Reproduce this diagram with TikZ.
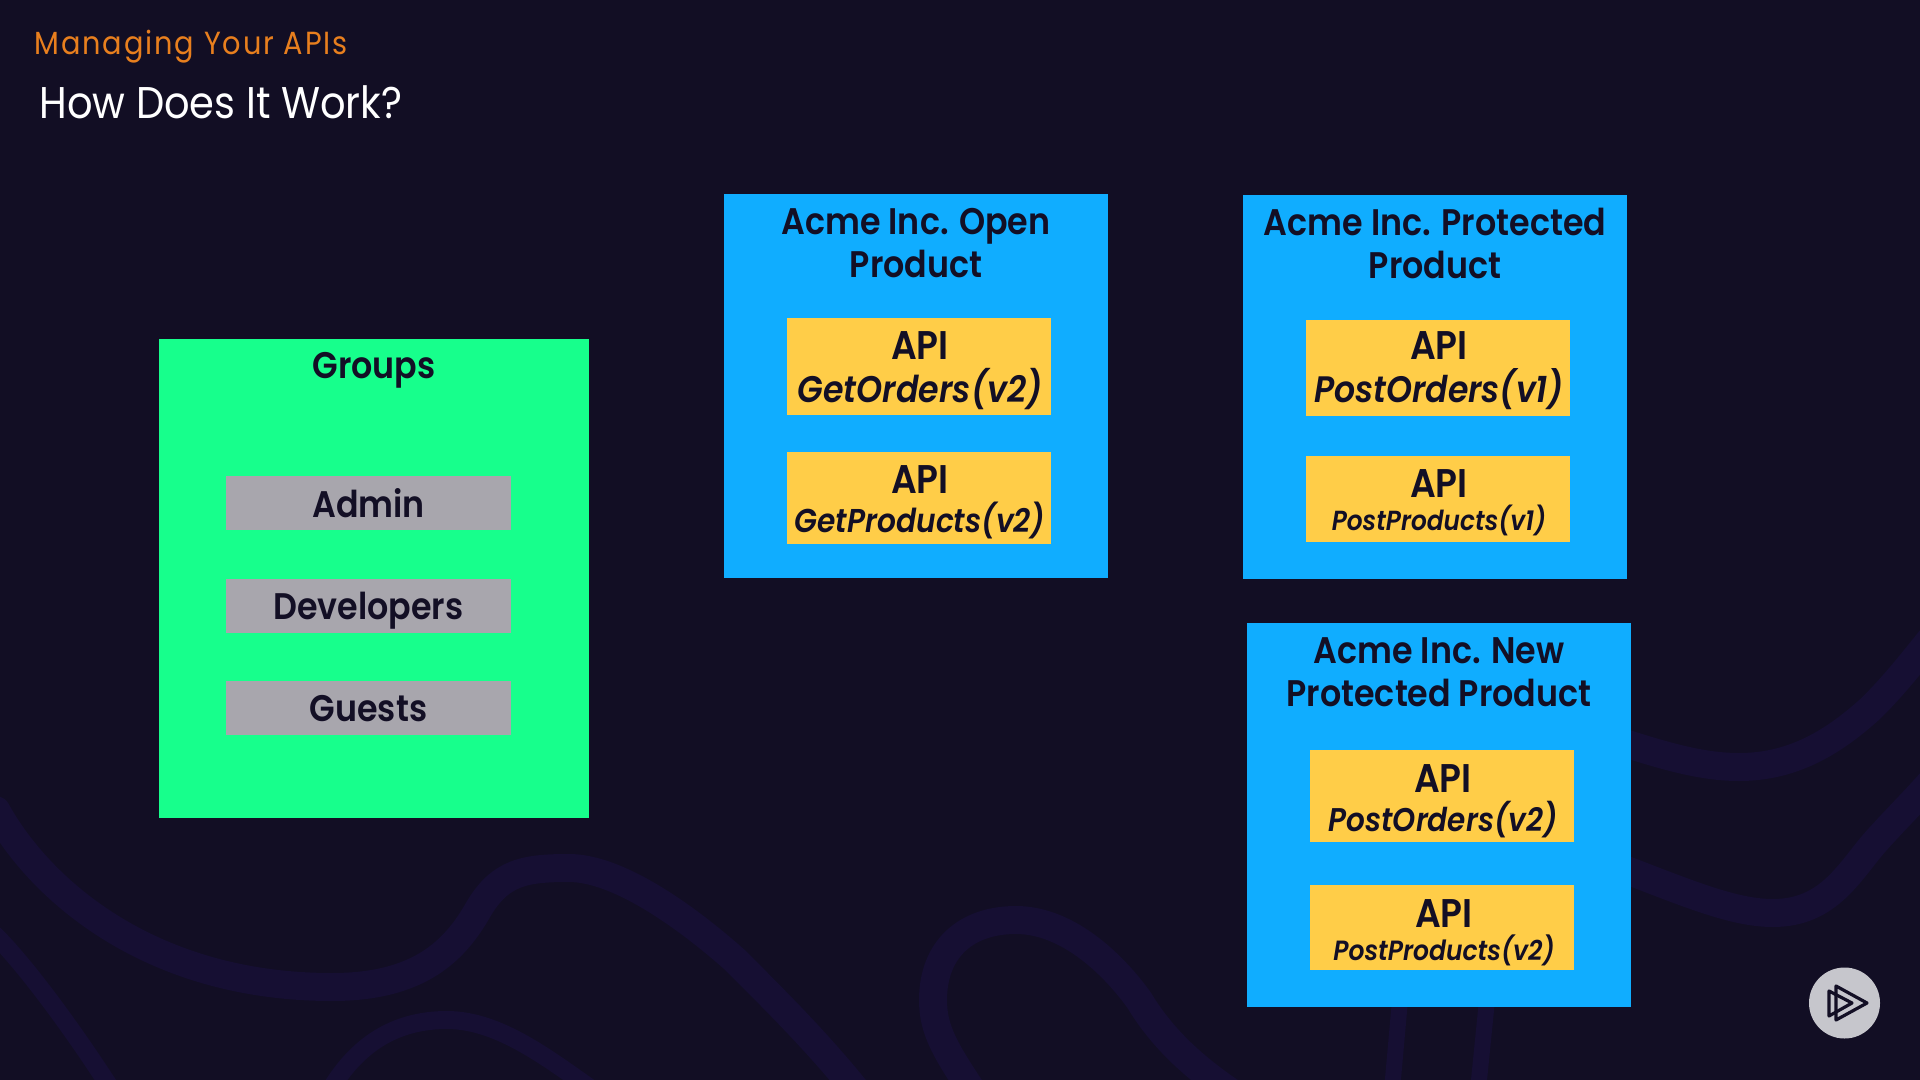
\documentclass[tikz,border=0pt]{standalone}
\usepackage{fontspec}
\setmainfont{Poppins}[UprightFont=* Medium,ItalicFont=* Medium Italic,BoldFont=* SemiBold,BoldItalicFont=* SemiBold Italic,FakeStretch=0.9]
\newfontfamily\lightf{Poppins}[UprightFont=* Regular,FakeStretch=0.9]
\definecolor{bgc}{HTML}{120E24}
\definecolor{wavec}{HTML}{160F33}
\definecolor{inkc}{HTML}{130F25}
\definecolor{greenc}{HTML}{17FF8C}
\definecolor{bluec}{HTML}{10ADFF}
\definecolor{yellowc}{HTML}{FFCD48}
\definecolor{grayc}{HTML}{A8A6AD}
\definecolor{orangec}{HTML}{E87F1E}
\definecolor{logoc}{HTML}{C6C6CC}
\tikzset{
  x=0.5pt,y=-0.5pt,
  pxbox/.style 2 args={rectangle,draw=none,inner sep=0pt,outer sep=0pt,minimum width=#1*0.5pt,minimum height=#2*0.5pt},
  groupbox/.style={pxbox={430}{479},fill=greenc},
  productbox/.style={pxbox={384}{384},fill=bluec},
  memberbox/.style={pxbox={285}{54},fill=grayc,text=inkc,text height=16pt,text depth=2pt,font=\fontsize{18.5}{22}\selectfont\bfseries},
  apibox/.style={pxbox={264}{#1},fill=yellowc},
  apitext/.style={text=inkc,align=center,inner sep=0pt,font=\fontsize{20}{21.5}\selectfont\bfseries},
  titletext/.style={text=inkc,align=center,inner sep=0pt,font=\fontsize{18.5}{21.5}\selectfont\bfseries},
  wave/.style={draw=wavec,line width=#1,line cap=round,line join=round},
  wave/.default=14pt
}
\begin{document}
\begin{tikzpicture}
\useasboundingbox (0,0) rectangle (1920,1080);
\fill[bgc] (0,0) rectangle (1920,1080);
\begin{scope}
\clip (0,0) rectangle (1920,1080);
\draw[wave] (-4,810) .. controls (40,890) and (150,987) .. (332,987) .. controls (420,987) and (455,950) .. (478,910) .. controls (500,872) and (525,868) .. (569,868) .. controls (620,868) and (690,920) .. (735,960) .. controls (780,1005) and (820,1045) .. (860,1095);
\draw[wave] (975,1095) .. controls (945,1050) and (933,1030) .. (933,1000) .. controls (933,950) and (965,920) .. (1016,920) .. controls (1065,920) and (1110,960) .. (1139,1000) .. controls (1160,1035) and (1190,1065) .. (1235,1095);
\draw[wave=9pt] (-5,935) .. controls (30,970) and (80,1040) .. (115,1095);
\draw[wave=9pt] (330,1090) .. controls (360,1040) and (400,1020) .. (447,1020) .. controls (500,1020) and (550,1060) .. (600,1095);
\draw[wave] (1600,735) .. controls (1660,755) and (1700,767) .. (1739,767) .. controls (1790,767) and (1830,745) .. (1869,710) .. controls (1890,690) and (1910,665) .. (1930,640);
\draw[wave] (1600,860) .. controls (1680,890) and (1730,913) .. (1773,913) .. controls (1830,913) and (1850,870) .. (1877,840) .. controls (1895,820) and (1915,800) .. (1930,783);
\draw[wave=8pt] (1400,1000) -- (1392,1090);
\draw[wave=8pt] (1487,1000) -- (1478,1090);
\end{scope}

\node[orangec,anchor=base west,inner sep=0pt,font=\lightf\fontsize{16}{18}\selectfont\addfontfeature{LetterSpace=6}] (section) at (34,55) {Managing Your APIs};
\node[white,anchor=base west,inner sep=0pt,font=\lightf\fontsize{22.2}{26}\selectfont] (heading) at (39,119) {How Does It Work?};

\node[groupbox] (groups) at (374,578.5) {};
\node[titletext,anchor=base] (groupsT) at (374,379) {Groups};
\node[memberbox] (admin) at (368.5,503) {Admin};
\node[memberbox] (developers) at (368.5,605.5) {Developers};
\node[memberbox] (guests) at (368.5,707.5) {Guests};

\node[productbox] (open) at (916,386) {};
\node[titletext] (openT) at (916,243) {Acme Inc. Open\\Product};
\node[apibox=97] (a1) at (918.5,366.5) {};
\node[apitext] (a1T) at (920,371) {API\\\fontsize{18.5}{21.5}\selectfont\textit{GetOrders(v2)}};
\node[apibox=92] (a2) at (918.5,498) {};
\node[apitext] (a2T) at (920,502) {API\\[-2pt]\fontsize{16.5}{20}\selectfont\textit{GetProducts(v2)}};

\node[productbox] (protected) at (1435,387) {};
\node[titletext] (protectedT) at (1435,243) {Acme Inc. Protected\\Product};
\node[apibox=96] (b1) at (1437.5,368) {};
\node[apitext] (b1T) at (1439,371) {API\\\fontsize{18.4}{21.5}\selectfont\textit{PostOrders(v1)}};
\node[apibox=86] (b2) at (1437.5,499) {};
\node[apitext] (b2T) at (1439,503) {API\\[-5pt]\fontsize{13.8}{15}\selectfont\textit{PostProducts(v1)}};

\node[productbox] (newprod) at (1439,815) {};
\node[titletext] (newprodT) at (1439,672) {Acme Inc. New\\Protected Product};
\node[apibox=92] (c1) at (1442,796) {};
\node[apitext] (c1T) at (1443,801) {API\\[-1.8pt]\fontsize{16.4}{20}\selectfont\textit{PostOrders(v2)}};
\node[apibox=85] (c2) at (1442,927.5) {};
\node[apitext] (c2T) at (1444,932.5) {API\\[-5pt]\fontsize{13.9}{15}\selectfont\textit{PostProducts(v2)}};

\node[circle,fill=logoc,minimum size=35.5pt,inner sep=0pt] (logo) at (1844.5,1003) {};
\draw[inkc,line width=1.6pt,line join=round] (1836,986) -- (1867,1003) -- (1836,1020) -- cycle;
\draw[inkc,line width=1.6pt,line join=round] (1829,991) -- (1852,1003) -- (1829,1016) -- cycle;
\end{tikzpicture}
\end{document}
